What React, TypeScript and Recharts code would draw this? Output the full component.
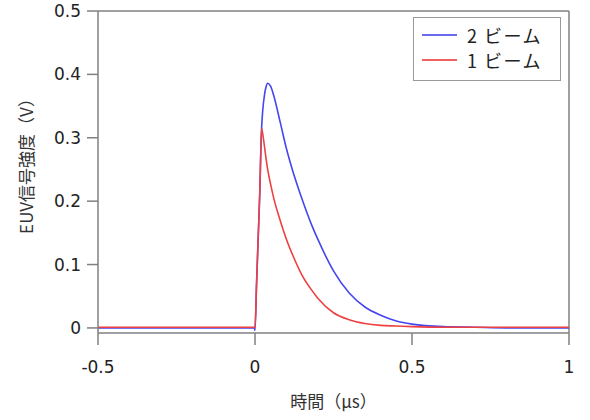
import { LineChart, Line, XAxis, YAxis, ReferenceLine, Label } from 'recharts';

// time axis in microseconds, signal in volts
const time = [
  -0.5, -0.25, -0.002, 0, 0.005, 0.01, 0.015, 0.021, 0.025, 0.03, 0.035, 0.041, 0.05, 0.06,
  0.08, 0.1, 0.12, 0.15, 0.18, 0.2, 0.25, 0.3, 0.35, 0.4, 0.45, 0.5, 0.6, 0.7, 0.8, 1.0,
];
const twoBeam = [
  0, 0, 0, -0.004, 0.07, 0.14, 0.21, 0.315, 0.345, 0.367, 0.38, 0.386, 0.381, 0.366,
  0.325, 0.283, 0.248, 0.203, 0.163, 0.14, 0.09, 0.055, 0.033, 0.02, 0.011, 0.006, 0.002, 0.001, 0, 0,
];
const oneBeam = [
  0.001, 0.001, 0.001, 0, 0.07, 0.14, 0.21, 0.315, 0.305, 0.287, 0.268, 0.248, 0.226, 0.204,
  0.17, 0.14, 0.115, 0.083, 0.06, 0.047, 0.024, 0.013, 0.007, 0.004, 0.003, 0.002, 0.001, 0.001, 0.001, 0.001,
];
const xTicks = [-0.5, 0, 0.5, 1];
const yTicks = [0, 0.1, 0.2, 0.3, 0.4, 0.5];
const seriesNames = ['2 ビーム', '1 ビーム'];

const BLUE = '#4646ee';
const RED = '#ee4040';
const AXIS = '#808080';
const TICK_FONT = { fontFamily: 'DejaVu Sans', fontSize: 17, fill: '#222' };
const CJK = '"Noto Sans CJK JP", "Noto Sans", sans-serif';

const data = time.map((t, i) => ({ t, twoBeam: twoBeam[i], oneBeam: oneBeam[i] }));

const YTitle = ({ viewBox }: any) => {
  const cy = viewBox.y + viewBox.height / 2 - 10;
  return (
    <text
      transform={`translate(25,${cy}) rotate(-90)`}
      textAnchor="middle"
      dominantBaseline="central"
      style={{ fontFamily: CJK, fontSize: 17, fill: '#333' }}
    >
      EUV信号強度（V）
    </text>
  );
};

const LegendBox = () => (
  <div
    style={{
      position: 'absolute',
      left: 413,
      top: 17,
      border: '1.5px solid #999',
      width: 148,
      height: 64,
      boxSizing: 'border-box',
      background: '#fff',
      fontFamily: CJK,
      fontSize: 18,
      letterSpacing: 1.5,
      color: '#222',
      padding: '4px 0 0 8px',
    }}
  >
    {seriesNames.map((name, i) => (
      <div key={name} style={{ display: 'flex', alignItems: 'center', height: 25 }}>
        <span
          style={{
            display: 'inline-block',
            width: 35,
            height: 0,
            borderTop: `2px solid ${i === 0 ? '#6b6bf2' : '#f06262'}`,
            marginRight: 10,
          }}
        />
        <span>{name}</span>
      </div>
    ))}
  </div>
);

export default function App() {
  return (
    <div style={{ position: 'absolute', left: 0, top: 0, width: 590, height: 420, background: '#fff' }}>
      <LineChart width={590} height={420} data={data} margin={{ top: 11, right: 21, bottom: 0, left: 0 }}>
        <XAxis
          dataKey="t"
          type="number"
          domain={[-0.5, 1]}
          ticks={xTicks}
          height={87}
          tickSize={12}
          tickMargin={16}
          tick={TICK_FONT}
          axisLine={{ stroke: AXIS, strokeWidth: 1.5 }}
          tickLine={{ stroke: AXIS, strokeWidth: 1.5 }}
        >
          <Label
            value="時間（μs）"
            position="insideBottom"
            offset={12}
            style={{ fontFamily: CJK, fontSize: 17, fill: '#333' }}
          />
        </XAxis>
        <YAxis
          type="number"
          domain={[-0.008, 0.5]}
          ticks={yTicks}
          width={98}
          tickSize={11}
          tickMargin={6}
          tick={TICK_FONT}
          axisLine={{ stroke: AXIS, strokeWidth: 1.5 }}
          tickLine={{ stroke: AXIS, strokeWidth: 1.5 }}
          allowDataOverflow
        >
          <Label content={YTitle} />
        </YAxis>
        <ReferenceLine y={0.5} stroke={AXIS} strokeWidth={1.5} />
        <ReferenceLine x={1} stroke={AXIS} strokeWidth={1.5} />
        <Line
          dataKey="twoBeam"
          name={seriesNames[0]}
          type="monotone"
          stroke={BLUE}
          strokeWidth={1.6}
          dot={false}
          isAnimationActive={false}
        />
        <Line
          dataKey="oneBeam"
          name={seriesNames[1]}
          type="monotone"
          stroke={RED}
          strokeWidth={1.6}
          dot={false}
          isAnimationActive={false}
        />
      </LineChart>
      <LegendBox />
    </div>
  );
}
